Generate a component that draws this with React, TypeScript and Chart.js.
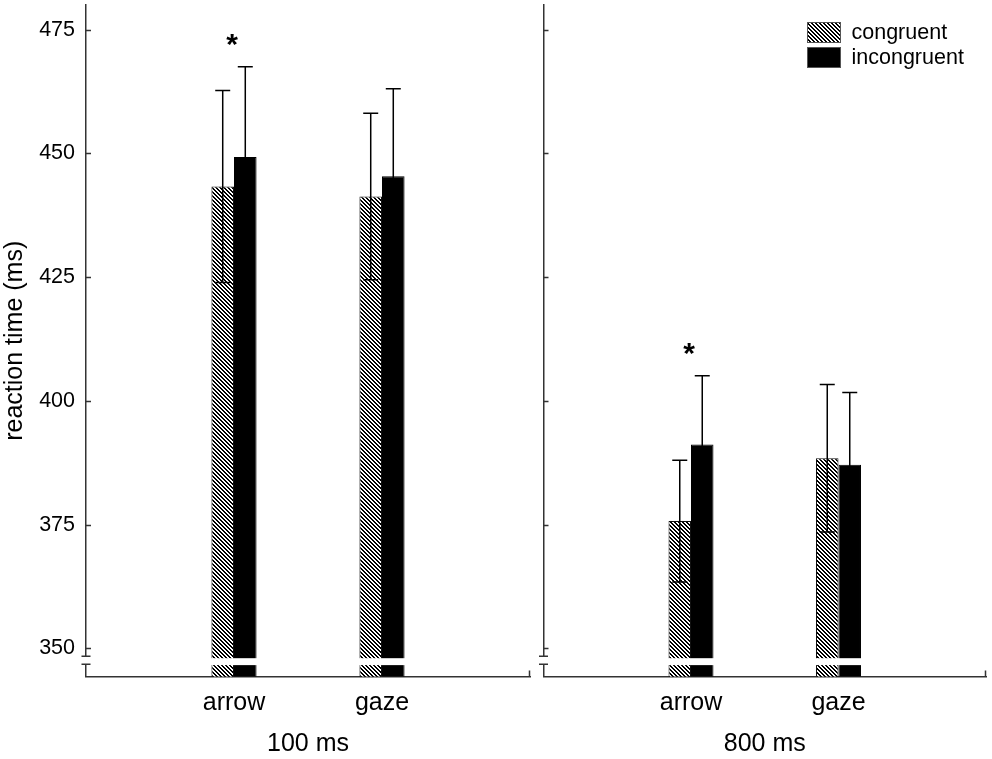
import React, { useEffect, useRef } from 'react';
import Chart from 'chart.js/auto';

const CATEGORIES = ['arrow', 'gaze'];
const SERIES = ['congruent', 'incongruent'];
const PANEL_TITLES = ['100 ms', '800 ms'];
const Y_TITLE = 'reaction time (ms)';

// mean reaction times, per category [arrow, gaze]
const CONGRUENT_100 = [443.3, 441.3];
const INCONGRUENT_100 = [449.3, 445.4];
const CONGRUENT_800 = [375.7, 388.4];
const INCONGRUENT_800 = [391.2, 387.1];

// error bar half lengths
const CONGRUENT_100_ERR = [19.4, 16.8];
const INCONGRUENT_100_ERR = [18.2, 17.7];
const CONGRUENT_800_ERR = [12.3, 14.9];
const INCONGRUENT_800_ERR = [13.9, 14.6];

// significant difference marker (*)
const SIG_100 = [true, false];
const SIG_800 = [true, false];

const Y_TICKS = [350, 375, 400, 425, 450, 475];
const Y_MIN = 344.3;
const Y_MAX = 480;
// axis break (value range cut out of the bars / axis)
const BAR_BREAK = [346.6, 348.0];
const AXIS_BREAK = [346.8, 348.4];

const FONT = "'Liberation Sans', Arial, sans-serif";
const AXIS_COLOR = '#333';

Chart.defaults.font.family = FONT;

// crisp "\\\" stripes, 4px period
function makeHatch(): CanvasPattern | string {
  const c = document.createElement('canvas');
  c.width = 4;
  c.height = 4;
  const g = c.getContext('2d');
  if (!g) return '#888';
  g.fillStyle = '#fff';
  g.fillRect(0, 0, 4, 4);
  g.fillStyle = '#000';
  for (let i = 0; i < 4; i++) {
    for (let j = 0; j < 4; j++) {
      const d = (((i - j) % 4) + 4) % 4;
      if (d === 0 || d === 1) g.fillRect(i, j, 1, 1);
    }
  }
  return g.createPattern(c, 'repeat') || '#888';
}

interface PanelProps {
  title: string;
  congruent: number[];
  incongruent: number[];
  congruentErr: number[];
  incongruentErr: number[];
  sig: boolean[];
  left: number;
  width: number;
  yWidth: number;
  first: boolean;
}

function Panel(props: PanelProps) {
  const chartRef = useRef<HTMLCanvasElement>(null);
  const chartInstance = useRef<Chart | null>(null);

  useEffect(() => {
    if (!chartRef.current) return;
    if (chartInstance.current) chartInstance.current.destroy();

    const { title, congruent, incongruent, congruentErr, incongruentErr, sig, yWidth, first } = props;
    const labels = ['', ...CATEGORIES, ''];
    const pad = (a: number[]) => [null, ...a, null];
    const hatch = makeHatch();

    const decorations = {
      id: 'decorations',
      afterDatasetsDraw(chart: any) {
        const { ctx, chartArea: a, scales } = chart;
        const x = scales.x;
        const y = scales.y;
        ctx.save();

        // error bars
        ctx.strokeStyle = '#000';
        ctx.lineWidth = 1.5;
        chart.data.datasets.forEach((ds: any, i: number) => {
          const meta = chart.getDatasetMeta(i);
          meta.data.forEach((bar: any, j: number) => {
            const v = ds.data[j];
            const e = ds.errors[j];
            if (v == null || e == null) return;
            const top = y.getPixelForValue(v + e);
            const bot = y.getPixelForValue(v - e);
            ctx.beginPath();
            ctx.moveTo(bar.x, top);
            ctx.lineTo(bar.x, bot);
            ctx.moveTo(bar.x - 7.5, top);
            ctx.lineTo(bar.x + 7.5, top);
            ctx.moveTo(bar.x - 7.5, bot);
            ctx.lineTo(bar.x + 7.5, bot);
            ctx.stroke();
          });
        });

        // significance asterisks
        ctx.fillStyle = '#000';
        ctx.font = `bold 30px ${FONT}`;
        ctx.textAlign = 'center';
        ctx.textBaseline = 'alphabetic';
        sig.forEach((s, k) => {
          if (!s) return;
          const idx = k + 1;
          let hi = -Infinity;
          chart.data.datasets.forEach((ds: any) => {
            const v = ds.data[idx];
            if (v != null) hi = Math.max(hi, v + (ds.errors[idx] || 0));
          });
          const cy = y.getPixelForValue(hi) - 27;
          const m = ctx.measureText('*');
          const base = cy + (m.actualBoundingBoxAscent - m.actualBoundingBoxDescent) / 2;
          ctx.fillText('*', x.getPixelForValue(idx) - 2, base);
        });

        // white gap through bars
        const g1 = y.getPixelForValue(BAR_BREAK[1]);
        const g2 = y.getPixelForValue(BAR_BREAK[0]);
        ctx.fillStyle = '#fff';
        ctx.fillRect(a.left + 2, g1, a.right - a.left - 2, g2 - g1);

        // axis break
        const c1 = y.getPixelForValue(AXIS_BREAK[1]);
        const c2 = y.getPixelForValue(AXIS_BREAK[0]);
        ctx.fillRect(a.left - 3, c1, 6, c2 - c1);
        ctx.strokeStyle = AXIS_COLOR;
        ctx.lineWidth = 1.5;
        ctx.beginPath();
        ctx.moveTo(a.left - 4.5, c1);
        ctx.lineTo(a.left + 4.5, c1);
        ctx.moveTo(a.left - 4.5, c2);
        ctx.lineTo(a.left + 4.5, c2);
        // inward y ticks
        y.ticks.forEach((t: any) => {
          const py = Math.round(y.getPixelForValue(t.value)) + 0.5;
          ctx.moveTo(a.left, py);
          ctx.lineTo(a.left + 5, py);
        });
        // end tick on x axis
        ctx.moveTo(a.right - 0.5, a.bottom);
        ctx.lineTo(a.right - 0.5, a.bottom - 6);
        ctx.stroke();

        // legend
        if (!first) {
          const bx = a.right - 179;
          ctx.font = `21.5px ${FONT}`;
          ctx.textAlign = 'left';
          ctx.textBaseline = 'middle';
          chart.data.datasets.forEach((ds: any, i: number) => {
            const by = 22 + i * 25;
            ctx.fillStyle = ds.backgroundColor;
            ctx.fillRect(bx, by, 34, 21);
            ctx.strokeStyle = '#555';
            ctx.lineWidth = 1;
            ctx.strokeRect(bx + 0.5, by + 0.5, 33, 20);
            ctx.fillStyle = '#000';
            ctx.fillText(ds.label, bx + 44.5, by + 11);
          });
        }
        ctx.restore();
      },
    };

    chartInstance.current = new Chart(chartRef.current, {
      type: 'bar',
      data: {
        labels,
        datasets: [
          {
            label: SERIES[0],
            data: pad(congruent),
            backgroundColor: hatch,
            borderColor: '#111',
            borderWidth: 1,
            errors: pad(congruentErr),
          } as any,
          {
            label: SERIES[1],
            data: pad(incongruent),
            backgroundColor: '#000',
            borderColor: '#000',
            borderWidth: 1,
            errors: pad(incongruentErr),
          } as any,
        ],
      },
      options: {
        animation: false,
        responsive: true,
        maintainAspectRatio: false,
        layout: { padding: { top: 5, right: 6, left: 0, bottom: 0 } },
        datasets: { bar: { categoryPercentage: 0.305, barPercentage: 1 } },
        plugins: { legend: { display: false }, tooltip: { enabled: false } },
        scales: {
          x: {
            type: 'category',
            offset: false,
            grid: { display: false, drawTicks: false },
            border: { display: true, color: AXIS_COLOR, width: 1.5 },
            ticks: { padding: 12, color: '#000', font: { size: 25 }, autoSkip: false, maxRotation: 0 },
            title: { display: true, text: title, color: '#000', font: { size: 25 }, padding: 0 },
            afterFit: (s: any) => {
              s.height = 82.5;
              s.paddingLeft = 0;
              s.paddingRight = 0;
            },
          },
          y: {
            min: Y_MIN,
            max: Y_MAX,
            grid: { display: false, drawTicks: false },
            border: { display: true, color: AXIS_COLOR, width: 1.5 },
            ticks: { display: first, padding: 11, color: '#000', font: { size: 21.5 } },
            afterBuildTicks: (s: any) => {
              s.ticks = Y_TICKS.map((value) => ({ value }));
            },
            title: { display: first, text: Y_TITLE, color: '#000', font: { size: 25 }, padding: 0 },
            afterFit: (s: any) => {
              s.width = yWidth;
              s.paddingTop = 0;
              s.paddingBottom = 0;
            },
          },
        },
      } as any,
      plugins: [decorations],
    });

    return () => {
      if (chartInstance.current) {
        chartInstance.current.destroy();
        chartInstance.current = null;
      }
    };
  }, []);

  return (
    <div style={{ position: 'absolute', left: props.left, top: 0, width: props.width, height: 759 }}>
      <canvas ref={chartRef} />
    </div>
  );
}

export default function App() {
  return (
    <div style={{ position: 'absolute', left: 0, top: 0, width: 992, height: 759, background: '#fff', overflow: 'hidden' }}>
      <Panel
        title={PANEL_TITLES[0]}
        congruent={CONGRUENT_100}
        incongruent={INCONGRUENT_100}
        congruentErr={CONGRUENT_100_ERR}
        incongruentErr={INCONGRUENT_100_ERR}
        sig={SIG_100}
        left={0}
        width={536}
        yWidth={86}
        first={true}
      />
      <Panel
        title={PANEL_TITLES[1]}
        congruent={CONGRUENT_800}
        incongruent={INCONGRUENT_800}
        congruentErr={CONGRUENT_800_ERR}
        incongruentErr={INCONGRUENT_800_ERR}
        sig={SIG_800}
        left={536}
        width={456}
        yWidth={7.5}
        first={false}
      />
    </div>
  );
}
